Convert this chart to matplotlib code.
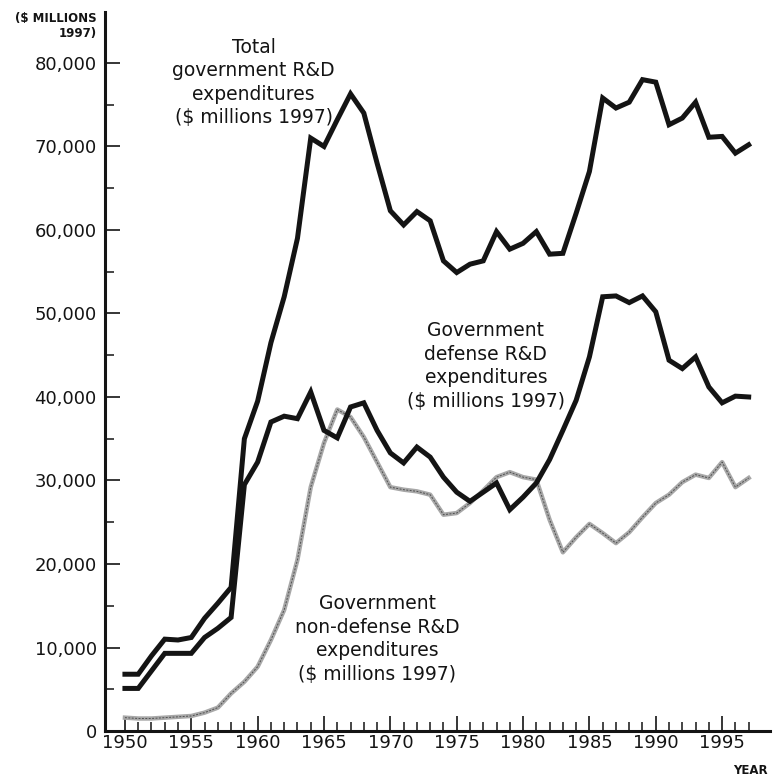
import numpy as np
import matplotlib.pyplot as plt
from matplotlib.ticker import FuncFormatter

# Government R&D expenditures, $ millions 1997
years = list(range(1950, 1998))

total = [6800, 6800, 9000, 11000, 10900, 11200, 13500, 15300, 17200, 35000,
         39500, 46500, 52000, 59000, 71000, 70000, 73200, 76300, 74000, 68000,
         62300, 60600, 62200, 61100, 56300, 54900, 55900, 56300, 59800, 57700,
         58400, 59800, 57100, 57200, 62000, 67000, 75800, 74600, 75300, 78000,
         77700, 72600, 73400, 75300, 71100, 71200, 69200, 70200]

defense = [5100, 5100, 7200, 9300, 9300, 9300, 11200, 12300, 13600, 29500,
           32200, 37000, 37700, 37400, 40600, 36000, 35100, 38800, 39300, 36000,
           33300, 32100, 34000, 32800, 30400, 28600, 27500, 28600, 29700, 26500,
           28000, 29700, 32500, 36000, 39600, 44800, 52000, 52100, 51300, 52100,
           50200, 44400, 43400, 44800, 41200, 39300, 40100, 40000]

nondefense = [1600, 1500, 1500, 1600, 1700, 1800, 2200, 2800, 4500, 5900,
              7700, 10900, 14500, 20500, 29200, 34500, 38500, 37600, 35200, 32200,
              29200, 28900, 28700, 28300, 25900, 26100, 27300, 28800, 30400, 31000,
              30400, 30100, 25300, 21400, 23200, 24800, 23700, 22500, 23800, 25600,
              27300, 28300, 29800, 30700, 30300, 32200, 29200, 30300]

ink = "#141414"

fig = plt.figure(figsize=(7.74, 7.79), dpi=100)
ax = fig.add_axes([0.1357, 0.0616, 0.859, 0.923])

# non-defense: grey halftone-looking line
ax.plot(years, nondefense, color="#a8a8a8", lw=3.2, solid_joinstyle="round", zorder=2)
ax.plot(years, nondefense, color="#505050", lw=0.7, linestyle=(0, (2, 1.5)), zorder=2)

ax.plot(years, defense, color=ink, lw=3.6, solid_joinstyle="miter", zorder=3)
ax.plot(years, total, color=ink, lw=3.6, solid_joinstyle="miter", zorder=3)

ax.set_xlim(1948.5, 1998.6)
ax.set_ylim(0, 86100)

for side in ["top", "right"]:
    ax.spines[side].set_visible(False)
for side in ["left", "bottom"]:
    ax.spines[side].set_linewidth(2.2)
    ax.spines[side].set_color(ink)

ax.set_xticks(range(1950, 1996, 5))
ax.set_xticks(range(1950, 1998), minor=True)
ax.set_yticks(range(0, 80001, 10000))
ax.set_yticks(range(5000, 80001, 10000), minor=True)
ax.yaxis.set_major_formatter(FuncFormatter(lambda v, p: f"{int(v):,}"))

ax.tick_params(axis="both", which="major", direction="in", length=11, width=1.2,
               colors=ink, labelsize=13)
ax.tick_params(axis="both", which="minor", direction="in", length=6.5, width=1.1,
               colors=ink)
ax.tick_params(axis="y", which="major", pad=6)
ax.tick_params(axis="x", which="major", pad=2)

fs = 13.5
ls = 1.3
ax.text(1959.7, 77660, "Total\ngovernment R&D\nexpenditures\n($ millions 1997)",
        ha="center", va="center", fontsize=fs, color=ink, linespacing=ls)
ax.text(1977.2, 43700, "Government\ndefense R&D\nexpenditures\n($ millions 1997)",
        ha="center", va="center", fontsize=fs, color=ink, linespacing=ls)
ax.text(1969.0, 11000, "Government\nnon-defense R&D\nexpenditures\n($ millions 1997)",
        ha="center", va="center", fontsize=fs, color=ink, linespacing=ls)

fig.text(97 / 774, 1 - 12 / 779, "($ MILLIONS\n1997)", ha="right", va="top",
         fontsize=8.5, fontweight="bold", color=ink, linespacing=1.25)
fig.text(768 / 774, 0.002, "YEAR", ha="right", va="bottom",
         fontsize=8.5, fontweight="bold", color=ink)

fig.savefig("out.png", dpi=100)
